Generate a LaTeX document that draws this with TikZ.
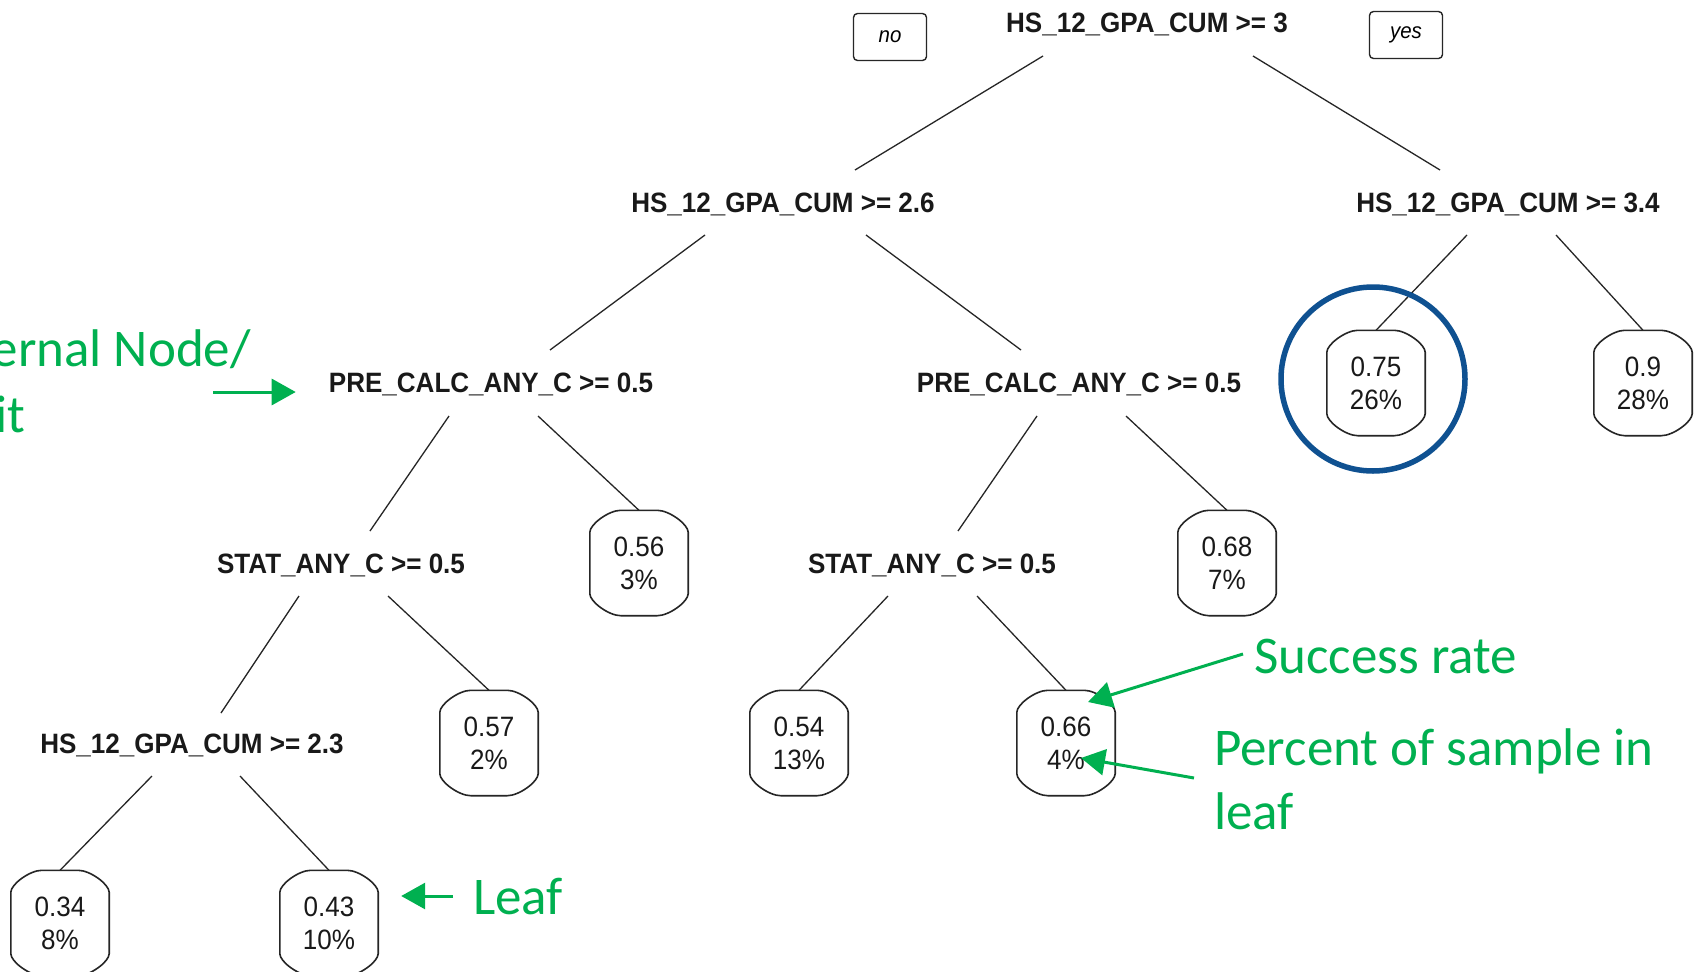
\documentclass[tikz,border=0pt]{standalone}
\usepackage{fontspec}
\usetikzlibrary{arrows.meta,calc}
\newfontfamily\treefont[FakeStretch=0.93]{Liberation Sans}
\newfontfamily\notefont{Carlito}
\definecolor{notegreen}{HTML}{00B050}
\definecolor{ringblue}{HTML}{0F5191}

% outline of a leaf box: straight sides, bevelled shoulders top and bottom
\newcommand\leafoutline[1]{%
  \draw[leafedge] ([shift={(31,0)}]#1.north west) -- ([shift={(-31,0)}]#1.north east)
    .. controls ([shift={(-19,0)}]#1.north east) and ([shift={(0,14)}]#1.north east) .. ([shift={(0,22)}]#1.north east)
    -- ([shift={(0,-22)}]#1.south east)
    .. controls ([shift={(0,-14)}]#1.south east) and ([shift={(-19,0)}]#1.south east) .. ([shift={(-31,0)}]#1.south east)
    -- ([shift={(31,0)}]#1.south west)
    .. controls ([shift={(19,0)}]#1.south west) and ([shift={(0,-14)}]#1.south west) .. ([shift={(0,-22)}]#1.south west)
    -- ([shift={(0,22)}]#1.north west)
    .. controls ([shift={(0,14)}]#1.north west) and ([shift={(19,0)}]#1.north west) .. cycle;}

\begin{document}
\begin{tikzpicture}[x=1pt,y=-1pt,
  splitlabel/.style={anchor=base, inner sep=0pt, text=black!90,
    font=\treefont\bfseries\fontsize{28}{33}\selectfont},
  leafbox/.style={inner sep=0pt, minimum width=98pt, minimum height=105pt, align=center,
    text=black!90, font=\treefont\fontsize{28}{33}\selectfont},
  branchline/.style={draw=black!85, line width=1.3pt},
  leafedge/.style={draw=black!85, line width=1.6pt},
  greennote/.style={text=notegreen, inner sep=0pt, font=\notefont\fontsize{53}{64}\selectfont},
  greenarrow/.style={draw=notegreen, line width=3pt, -{Triangle[length=24pt,width=26pt]}},
  sidetag/.style={draw=black!85, line width=1.4pt, rounded corners=4pt, minimum width=73pt,
    minimum height=47pt, inner sep=0pt, font=\treefont\itshape\fontsize{22}{26}\selectfont}
]
\fill[white] (0,0) rectangle (1698,972);
\useasboundingbox (0,0) rectangle (1698,972);
\clip (0,0) rectangle (1698,972);

% split labels
\node[splitlabel] (root) at (1147,32)  {HS\_12\_GPA\_CUM >= 3};
\node[splitlabel] (n26)  at (783,212)  {HS\_12\_GPA\_CUM >= 2.6};
\node[splitlabel] (n34)  at (1508,212) {HS\_12\_GPA\_CUM >= 3.4};
\node[splitlabel] (pcl)  at (491,392)  {PRE\_CALC\_ANY\_C >= 0.5};
\node[splitlabel] (pcr)  at (1079,392) {PRE\_CALC\_ANY\_C >= 0.5};
\node[splitlabel] (stl)  at (341,573)  {STAT\_ANY\_C >= 0.5};
\node[splitlabel] (str)  at (932,573)  {STAT\_ANY\_C >= 0.5};
\node[splitlabel] (h23)  at (192,753)  {HS\_12\_GPA\_CUM >= 2.3};

% no / yes tags
\node[sidetag] (notag)  at (890,37)  {no};
\node[sidetag] (yestag) at (1406,35) {yes};

% leaves
\node[leafbox] (l075) at (1376,383) {0.75\\26\%};
\node[leafbox] (l09)  at (1643,383) {0.9\\28\%};
\node[leafbox] (l056) at (639,563)  {0.56\\3\%};
\node[leafbox] (l068) at (1227,563) {0.68\\7\%};
\node[leafbox] (l057) at (489,743)  {0.57\\2\%};
\node[leafbox] (l054) at (799,743)  {0.54\\13\%};
\node[leafbox] (l066) at (1066,743) {0.66\\4\%};
\node[leafbox] (l034) at (60,923)   {0.34\\8\%};
\node[leafbox] (l043) at (329,923)  {0.43\\10\%};
\foreach \lf in {l075,l09,l056,l068,l057,l054,l066,l034,l043}{\leafoutline{\lf}}

% branches
\draw[branchline] ($(root.base)+(-104,24)$) -- ($(n26.base)+(72,-42)$);
\draw[branchline] ($(root.base)+(106,24)$)  -- ($(n34.base)+(-68,-42)$);
\draw[branchline] ($(n26.base)+(-78,23)$)   -- ($(pcl.base)+(59,-42)$);
\draw[branchline] ($(n26.base)+(83,23)$)    -- ($(pcr.base)+(-58,-42)$);
\draw[branchline] ($(n34.base)+(-41,23)$)   -- (l075.north);
\draw[branchline] ($(n34.base)+(48,23)$)    -- (l09.north);
\draw[branchline] ($(pcl.base)+(-42,24)$)   -- ($(stl.base)+(29,-42)$);
\draw[branchline] ($(pcl.base)+(47,24)$)    -- (l056.north);
\draw[branchline] ($(pcr.base)+(-42,24)$)   -- ($(str.base)+(26,-42)$);
\draw[branchline] ($(pcr.base)+(47,24)$)    -- (l068.north);
\draw[branchline] ($(stl.base)+(-42,23)$)   -- ($(h23.base)+(29,-40)$);
\draw[branchline] ($(stl.base)+(47,23)$)    -- (l057.north);
\draw[branchline] ($(str.base)+(-44,23)$)   -- (l054.north);
\draw[branchline] ($(str.base)+(45,23)$)    -- (l066.north);
\draw[branchline] ($(h23.base)+(-40,23)$)   -- (l034.north);
\draw[branchline] ($(h23.base)+(48,23)$)    -- (l043.north);

% highlight ring
\draw[ringblue, line width=5.5pt] ([shift={(-3,-4)}]l075.center) circle[radius=92];

% annotations
\node[greennote, anchor=base east] (intnote)  at (251,366) {Internal Node/};
\node[greennote, anchor=base east] (intnote2) at (26,432)  {Split};
\coordinate (intfrom) at (213,392);
\draw[greenarrow] (intfrom) -- ($(pcl.base west)+(-33,0)$);

\node[greennote, anchor=base west] (leafnote) at (473,914) {Leaf};
\draw[greenarrow] ($(leafnote.base west)+(-20,-18)$) -- ($(l043.east)+(23,-27)$);

\node[greennote, anchor=base west] (ratenote) at (1254,673) {Success rate};
\draw[greenarrow] ($(ratenote.base west)+(-11,-19)$) -- ($(l066.center)+(22,-41)$);

\node[greennote, anchor=base west] (pctnote)  at (1214,765) {Percent of sample in};
\node[greennote, anchor=base west] (pctnote2) at (1214,829) {leaf};
\draw[greenarrow] ($(pctnote.base west)+(-20,13)$) -- ($(l066.center)+(15,15)$);
\end{tikzpicture}
\end{document}
